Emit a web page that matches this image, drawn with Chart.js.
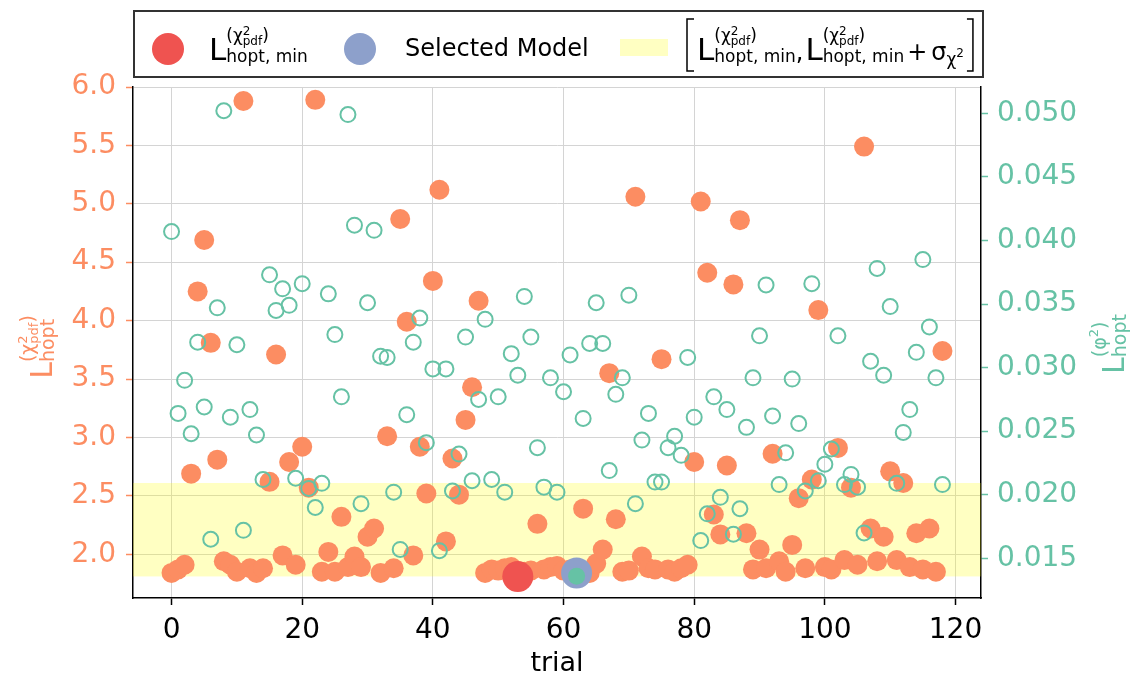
<!DOCTYPE html>
<html>
<head>
<meta charset="utf-8">
<script src="https://cdn.jsdelivr.net/npm/chart.js@4.4.0/dist/chart.umd.min.js"></script>
<style>
html,body{margin:0;padding:0;background:#fff}
#wrap{width:1135px;height:678px}
</style>
</head>
<body>
<div id="wrap"><canvas id="lossChart" width="1135" height="678"></canvas></div>
<script>
// trial index and the two losses per trial

const trials=[0,1,2,3,4,5,6,7,8,9,10,11,12,13,14,15,16,17,18,19,20,21,22,23,24,25,26,27,28,29,
30,31,32,33,34,35,36,37,38,39,40,41,42,43,44,45,46,47,48,49,50,51,52,53,54,55,56,57,58,59,
60,61,62,63,64,65,66,67,68,69,70,71,72,73,74,75,76,77,78,79,80,81,82,83,84,85,86,87,88,89,
90,91,92,93,94,95,96,97,98,99,100,101,102,103,104,105,106,107,108,109,110,111,112,113,114,115,116,117,118];

const lossChi=[1.84,1.87,1.91,2.69,4.25,4.69,3.81,2.81,1.94,1.91,1.85,5.88,1.88,1.84,1.88,2.62,3.71,1.99,2.79,1.91,
2.92,2.57,5.89,1.85,2.02,1.85,2.32,1.89,1.98,1.89,2.15,2.22,1.84,3.01,1.88,4.87,3.99,1.99,2.92,2.52,
4.34,5.12,2.11,2.82,2.51,3.15,3.43,4.17,1.84,1.87,1.86,1.88,1.89,1.81,1.85,1.86,2.26,1.87,1.89,1.90,
1.86,1.87,1.84,2.39,1.84,1.92,2.04,3.55,2.30,1.85,1.86,5.06,1.98,1.88,1.87,3.67,1.87,1.85,1.88,1.91,
2.79,5.02,4.41,2.34,2.17,2.76,4.31,4.86,2.18,1.87,2.04,1.88,2.86,1.94,1.85,2.08,2.48,1.88,2.64,4.09,
1.89,1.87,2.91,1.95,2.57,1.91,5.49,2.22,1.94,2.15,2.71,1.95,2.61,1.89,2.18,1.87,2.22,1.85,3.74];

const lossPhi=[0.0407,0.0264,0.0290,0.0248,0.0320,0.0269,0.0165,0.0347,0.0502,0.0261,
0.0318,0.0172,0.0267,0.0247,0.0212,0.0373,0.0345,0.0362,0.0349,0.0213,
0.0366,0.0205,0.0190,0.0209,0.0358,0.0326,0.0277,0.0499,0.0412,0.0193,
0.0351,0.0408,0.0309,0.0308,0.0202,0.0157,0.0263,0.0320,0.0339,0.0241,
0.0299,0.0156,0.0299,0.0203,0.0232,0.0324,0.0211,0.0275,0.0338,0.0212,
0.0277,0.0202,0.0311,0.0294,0.0356,0.0324,0.0237,0.0206,0.0292,0.0202,
0.0281,0.0310,0.0136,0.0260,0.0319,0.0351,0.0319,0.0219,0.0279,0.0292,
0.0357,0.0193,0.0243,0.0264,0.0210,0.0210,0.0237,0.0246,0.0231,0.0308,
0.0261,0.0164,0.0185,0.0277,0.0198,0.0267,0.0169,0.0189,0.0253,0.0292,
0.0325,0.0365,0.0262,0.0208,0.0233,0.0291,0.0256,0.0203,0.0366,0.0211,
0.0224,0.0236,0.0325,0.0208,0.0216,0.0206,0.0170,0.0305,0.0378,0.0294,
0.0348,0.0209,0.0249,0.0267,0.0312,0.0385,0.0332,0.0292,0.0208];

const selectedTrial=62;
const sigmaChi=0.80;

const xTicks=[0,20,40,60,80,100,120];
const chiTicks=[2.0,2.5,3.0,3.5,4.0,4.5,5.0,5.5,6.0];
const phiTicks=[0.015,0.020,0.025,0.030,0.035,0.040,0.045,0.050];

const orange='#fc8d62', green='#66c2a5', blue='#8da0cb', red='#ef5350';
const FONT='"DejaVu Sans"';

const minChi=Math.min(...lossChi);
const iMin=lossChi.indexOf(minChi);
const iSel=trials.indexOf(selectedTrial);

// draws a run of text pieces, a stack puts sup and sub at the same x
function mathRun(ctx,items,x,y,draw){
let cx=x;
for(const it of items){
if(it.stack){
let w=0;
for(const row of it.stack)w=Math.max(w,mathRun(ctx,row.items,cx,y+row.dy,draw));
cx+=w;
}else{
cx+=(it.pre||0);
ctx.font=it.s+'px '+FONT;
if(draw)ctx.fillText(it.t,cx,y+(it.dy||0));
cx+=ctx.measureText(it.t).width+(it.gap||0);
}
}
return cx-x;
}

function chiGroup(s,r){
return [{t:'(χ',s:s},{stack:[{items:[{t:'2',s:r}],dy:-s*0.38},{items:[{t:'pdf',s:r}],dy:s*0.22}]},{t:')',s:s}];
}

function lExpr(big,small,supItems,sub){
return [{t:'L',s:big},{stack:[{items:supItems,dy:-big*0.6},{items:[{t:sub,s:small}],dy:big*0.07}]}];
}

const bandPlugin={
id:'band',
beforeDatasetsDraw(chart){
const {ctx,chartArea:a,scales:{y}}=chart;
const top=y.getPixelForValue(minChi+sigmaChi);
const bot=y.getPixelForValue(minChi);
ctx.save();
ctx.fillStyle='rgba(255,255,0,0.24)';
ctx.fillRect(a.left,top,a.right-a.left,bot-top);
ctx.restore();
}
};

const textPlugin={
id:'texts',
afterDraw(chart){
const ctx=chart.ctx;
ctx.save();
ctx.textBaseline='alphabetic';
ctx.textAlign='left';

// legend box
ctx.fillStyle='#fff';
ctx.fillRect(134,11,849,66);
ctx.strokeStyle='#333';
ctx.lineWidth=2;
ctx.strokeRect(134,11,849,66);

const base=60;
ctx.fillStyle=red;
ctx.beginPath();ctx.arc(168,49,16,0,Math.PI*2);ctx.fill();
ctx.fillStyle='#000';
mathRun(ctx,lExpr(31,17,chiGroup(17,12),'hopt, min'),209,base,true);

ctx.fillStyle=blue;
ctx.beginPath();ctx.arc(360,49,16,0,Math.PI*2);ctx.fill();
ctx.fillStyle='#000';
ctx.font='24px '+FONT;
ctx.fillText('Selected Model',405,56);

ctx.fillStyle='rgba(255,255,0,0.24)';
ctx.fillRect(620,39,48,17);

// brackets
ctx.strokeStyle='#000';
ctx.lineWidth=1.5;
ctx.beginPath();
ctx.moveTo(694,19);ctx.lineTo(687,19);ctx.lineTo(687,71);ctx.lineTo(694,71);
ctx.stroke();
ctx.fillStyle='#000';
let cx=697;
cx+=mathRun(ctx,lExpr(31,17,chiGroup(17,12),'hopt, min'),cx,base,true);
cx+=mathRun(ctx,[{t:',',s:24,gap:2}],cx,base,true);
cx+=mathRun(ctx,lExpr(31,17,chiGroup(17,12),'hopt, min'),cx,base,true);
cx+=mathRun(ctx,[{t:'+',s:24,pre:3,gap:4},{t:'σ',s:24},{t:'χ',s:17,dy:5},{t:'2',s:12,dy:-3}],cx,base,true);
cx+=3;
ctx.beginPath();
ctx.moveTo(cx,19);ctx.lineTo(cx+6,19);ctx.lineTo(cx+6,71);ctx.lineTo(cx,71);
ctx.stroke();

// left axis title
let items=lExpr(30,19,chiGroup(19,13),'hopt');
ctx.fillStyle=orange;
let w=mathRun(ctx,items,0,0,false);
ctx.translate(52,347);
ctx.rotate(-Math.PI/2);
mathRun(ctx,items,-w/2,0,true);
ctx.setTransform(1,0,0,1,0,0);

// right axis title
items=lExpr(30,19,[{t:'(φ',s:19},{t:'2',s:13,dy:-8},{t:')',s:19}],'hopt');
ctx.fillStyle=green;
w=mathRun(ctx,items,0,0,false);
ctx.translate(1124,344);
ctx.rotate(-Math.PI/2);
mathRun(ctx,items,-w/2,0,true);
ctx.restore();
}
};

function fixTicks(list){
return function(scale){scale.ticks=list.map(v=>({value:v}));};
}

new Chart(document.getElementById('lossChart'),{
type:'scatter',
data:{
datasets:[
{label:'chi',data:trials.map((t,i)=>({x:t,y:lossChi[i]})),yAxisID:'y',order:5,
pointRadius:10,backgroundColor:orange,borderWidth:0},
{label:'phi',data:trials.map((t,i)=>({x:t,y:lossPhi[i]})),yAxisID:'y2',order:4,
pointRadius:7.5,backgroundColor:'rgba(0,0,0,0)',borderColor:green,borderWidth:2},
{label:'min',data:[{x:trials[iMin],y:lossChi[iMin]}],yAxisID:'y',order:3,
pointRadius:15.5,backgroundColor:red,borderWidth:0},
{label:'selected',data:[{x:trials[iSel],y:lossChi[iSel]}],yAxisID:'y',order:2,
pointRadius:15.5,backgroundColor:blue,borderWidth:0},
{label:'selectedPhi',data:[{x:trials[iSel],y:lossPhi[iSel]}],yAxisID:'y2',order:1,
pointRadius:8.5,backgroundColor:green,borderWidth:0}
]
},
options:{
responsive:false,
animation:false,
devicePixelRatio:1,
events:[],
layout:{padding:{top:87,left:0,right:0,bottom:0}},
plugins:{legend:{display:false},tooltip:{enabled:false}},
scales:{
x:{
type:'linear',min:-5.9,max:123.9,
afterBuildTicks:fixTicks(xTicks),
afterFit(s){s.height=80;},
grid:{color:'#d4d4d4',lineWidth:1,tickColor:'#000',tickLength:7,tickWidth:1.5},
border:{display:true,color:'#000',width:1.5},
ticks:{color:'#000',font:{family:'DejaVu Sans',size:28},padding:9,maxRotation:0,callback:v=>String(v)},
title:{display:true,text:'trial',color:'#000',font:{family:'DejaVu Sans',size:27,lineHeight:1.0},padding:{top:0,bottom:1}}
},
y:{
type:'linear',position:'left',min:1.6254,max:6.0,
afterBuildTicks:fixTicks(chiTicks),
afterFit(s){s.width=133;},
grid:{color:'#d4d4d4',lineWidth:1,tickColor:orange,tickLength:7,tickWidth:1.5},
border:{display:true,color:'#000',width:1.5},
ticks:{color:orange,font:{family:'DejaVu Sans',size:28},padding:10,callback:v=>v.toFixed(1)}
},
y2:{
type:'linear',position:'right',min:0.01188,max:0.05207,
afterBuildTicks:fixTicks(phiTicks),
afterFit(s){s.width=154;},
grid:{drawOnChartArea:false,tickColor:green,tickLength:7,tickWidth:1.5},
border:{display:true,color:'#000',width:1.5},
ticks:{color:green,font:{family:'DejaVu Sans',size:28},padding:9,callback:v=>v.toFixed(3)}
}
}
},
plugins:[bandPlugin,textPlugin]
});
</script>
</body>
</html>
